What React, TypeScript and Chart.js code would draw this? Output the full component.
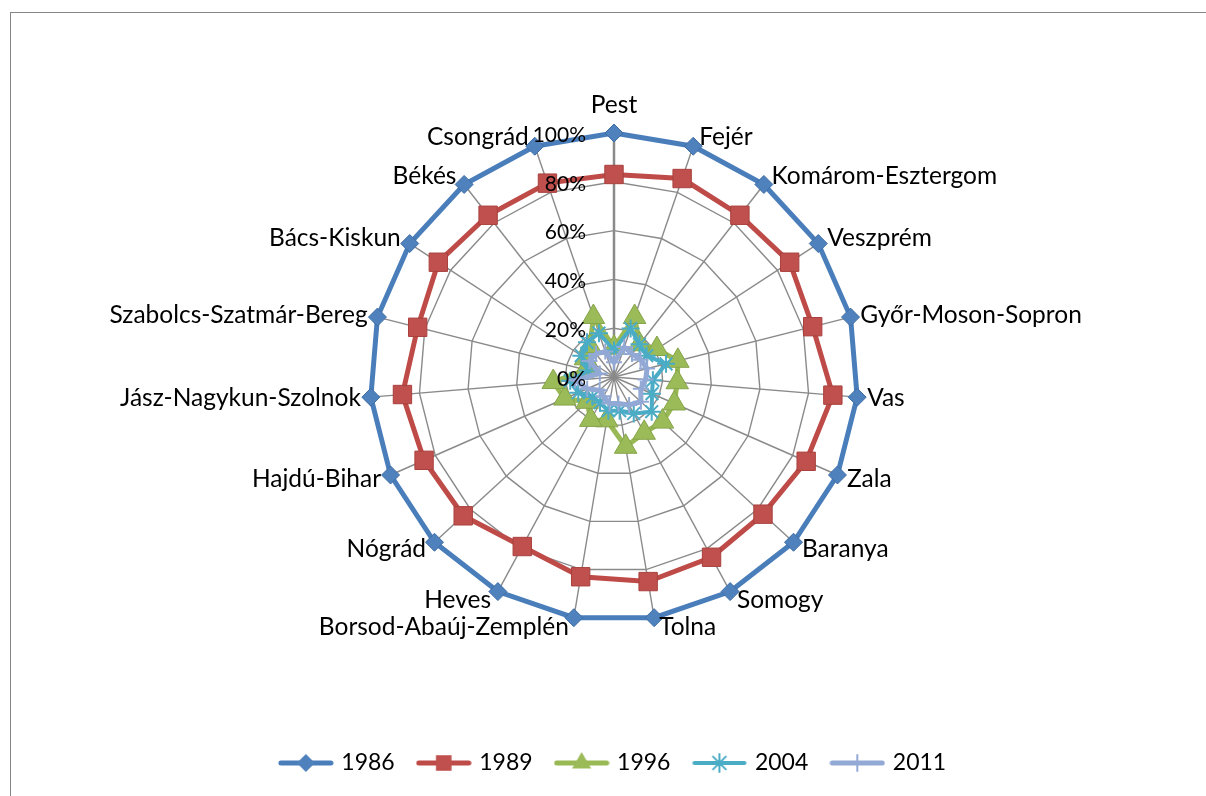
import React, { useEffect, useRef } from "react";
import { Chart, registerables } from "chart.js";

Chart.register(...registerables);

const categories = [
  "Pest", "Fejér", "Komárom-Esztergom", "Veszprém", "Győr-Moson-Sopron", "Vas", "Zala",
  "Baranya", "Somogy", "Tolna", "Borsod-Abaúj-Zemplén", "Heves", "Nógrád", "Hajdú-Bihar",
  "Jász-Nagykun-Szolnok", "Szabolcs-Szatmár-Bereg", "Bács-Kiskun", "Békés", "Csongrád",
];

const seriesNames = ["1986", "1989", "1996", "2004", "2011"];

const values1986 = [100, 100, 100, 100, 100, 100, 100, 100, 100, 100, 100, 100, 100, 100, 100, 100, 100, 100, 100];
const values1989 = [83, 86, 84, 86, 84, 90, 86, 83, 84, 85, 83, 79, 84, 85, 87, 83, 86, 84, 84];
const values1996 = [12, 26, 17, 21, 27, 26, 27, 27, 26, 29, 18, 20, 15, 22, 25, 12, 14, 16, 26];
const values2004 = [11, 21, 17, 16, 22, 16, 17, 21, 17, 14, 14, 12, 12, 16, 18, 11, 16, 18, 19];
const values2011 = [6, 13, 12, 13, 14, 13, 12, 15, 13, 11, 11, 9, 8, 12, 16, 6, 12, 12, 11];

const tickValues = [0, 20, 40, 60, 80, 100];

const LINE_COLORS = ["#4A7EBB", "#BE4B48", "#98B954", "#4BACC6", "#93A9D5"];
const MARKER_FILL = ["#4F81BD", "#C0504D", "#9BBB59", "#4BACC6", "#93A9D5"];
const MARKER_BORDER = ["#3F6EA6", "#A8403D", "#86A44A", "#4BACC6", "#93A9D5"];
const MARKER_STYLE = ["rectRot", "rect", "triangle", "star", "cross"];
const MARKER_RADIUS = [9, 13, 13, 9, 8];
const LINE_WIDTH = [5, 5, 5, 4, 5];

function drawMarker(ctx: CanvasRenderingContext2D, style: string, x: number, y: number, r: number, fill: string, stroke: string) {
  ctx.save();
  ctx.fillStyle = fill;
  ctx.strokeStyle = stroke;
  ctx.lineWidth = 1.5;
  ctx.beginPath();
  if (style === "rectRot") {
    ctx.moveTo(x - r, y);
    ctx.lineTo(x, y - r);
    ctx.lineTo(x + r, y);
    ctx.lineTo(x, y + r);
    ctx.closePath();
    ctx.fill();
  } else if (style === "rect") {
    const s = Math.SQRT1_2 * r;
    ctx.rect(x - s, y - s, 2 * s, 2 * s);
    ctx.fill();
  } else if (style === "triangle") {
    for (let k = 0; k < 3; k++) {
      const a = (k * 2 * Math.PI) / 3;
      const px = x + Math.sin(a) * r;
      const py = y - Math.cos(a) * r;
      if (k === 0) ctx.moveTo(px, py);
      else ctx.lineTo(px, py);
    }
    ctx.closePath();
    ctx.fill();
  } else if (style === "star") {
    ctx.lineWidth = 2;
    for (let k = 0; k < 4; k++) {
      const a = (k * Math.PI) / 4;
      ctx.moveTo(x - Math.cos(a) * r, y - Math.sin(a) * r);
      ctx.lineTo(x + Math.cos(a) * r, y + Math.sin(a) * r);
    }
    ctx.stroke();
  } else if (style === "cross") {
    ctx.lineWidth = 2;
    ctx.moveTo(x, y - r);
    ctx.lineTo(x, y + r);
    ctx.moveTo(x - r, y);
    ctx.lineTo(x + r, y);
    ctx.stroke();
  }
  ctx.restore();
}

function makeLegendImage(i: number): HTMLCanvasElement {
  const c = document.createElement("canvas");
  c.width = 56;
  c.height = 26;
  const ctx = c.getContext("2d")!;
  ctx.strokeStyle = LINE_COLORS[i];
  ctx.lineWidth = LINE_WIDTH[i];
  ctx.lineCap = "round";
  ctx.beginPath();
  ctx.moveTo(3, 13);
  ctx.lineTo(53, 13);
  ctx.stroke();
  drawMarker(ctx, MARKER_STYLE[i], 28, 13, Math.min(MARKER_RADIUS[i], 11), MARKER_FILL[i], MARKER_BORDER[i]);
  return c;
}

const frameAndLabels = {
  id: "frameAndLabels",
  beforeDraw(chart: any) {
    const ctx = chart.ctx as CanvasRenderingContext2D;
    ctx.save();
    ctx.fillStyle = "#ffffff";
    ctx.fillRect(0, 0, chart.width, chart.height);
    ctx.strokeStyle = "#868686";
    ctx.lineWidth = 1;
    ctx.strokeRect(10.5, 12.5, 1400, 1000);
    ctx.restore();
  },
  afterDraw(chart: any) {
    const scale = chart.scales.r;
    const ctx = chart.ctx as CanvasRenderingContext2D;
    ctx.save();
    ctx.fillStyle = "#000000";
    ctx.textBaseline = "middle";
    ctx.font = "24.5px Lato";
    const labels: string[] = chart.data.labels;
    const outer = scale.getDistanceFromCenterForValue(100);
    labels.forEach((lab, i) => {
      const ang = scale.getIndexAngle(i);
      const p = scale.getPointPosition(i, outer);
      const s = Math.sin(ang);
      const c = Math.cos(ang);
      if (Math.abs(s) < 0.01) {
        ctx.textAlign = "center";
        ctx.fillText(lab, p.x, p.y - 28);
      } else {
        const off = 4 + 6 * Math.abs(s);
        ctx.textAlign = s > 0 ? "left" : "right";
        ctx.fillText(lab, p.x + (s > 0 ? off : -off), p.y - 10 * c);
      }
    });
    ctx.font = "21px Lato";
    ctx.textAlign = "right";
    scale.ticks.forEach((t: any) => {
      const y = scale.yCenter - scale.getDistanceFromCenterForValue(t.value);
      ctx.fillText(t.label, scale.xCenter - 28, y + 2);
    });
    ctx.restore();
  },
};

export default function App() {
  const ref = useRef<HTMLCanvasElement | null>(null);
  useEffect(() => {
    if (!ref.current) return;
    const all = [values1986, values1989, values1996, values2004, values2011];
    const legendImages = seriesNames.map((_, i) => makeLegendImage(i));
    const chart = new Chart(ref.current, {
      type: "radar",
      data: {
        labels: categories,
        datasets: seriesNames.map((name, i) => ({
          label: name,
          data: all[i],
          order: seriesNames.length - i,
          fill: false,
          borderColor: LINE_COLORS[i],
          backgroundColor: MARKER_FILL[i],
          borderWidth: LINE_WIDTH[i],
          tension: 0,
          pointStyle: MARKER_STYLE[i] as any,
          pointRadius: MARKER_RADIUS[i],
          pointHoverRadius: MARKER_RADIUS[i],
          pointBackgroundColor: MARKER_FILL[i],
          pointBorderColor: i >= 3 ? LINE_COLORS[i] : MARKER_BORDER[i],
          pointBorderWidth: i >= 3 ? 2 : 1,
        })),
      },
      options: {
        animation: false,
        responsive: false,
        devicePixelRatio: 1,
        layout: { padding: { top: 133, left: 22, right: 0, bottom: 11.5 } },
        scales: {
          r: {
            min: 0,
            max: 100,
            beginAtZero: true,
            ticks: {
              display: false,
              stepSize: 20,
              callback: (v: any) => v + "%",
            },
            afterBuildTicks: (scale: any) => {
              scale.ticks = tickValues.map((v) => ({ value: v }));
            },
            pointLabels: { display: false },
            grid: { color: "#8A8A8A", lineWidth: 1.4, circular: false },
            angleLines: {
              color: "#8A8A8A",
              lineWidth: (ctx: any) => (ctx.index === 0 ? 2.5 : 1.4),
            },
          },
        },
        plugins: {
          tooltip: { enabled: false },
          legend: {
            position: "bottom",
            title: { display: true, text: "", padding: { top: 93.5, bottom: 0 }, font: { size: 10 } },
            labels: {
              usePointStyle: true,
              pointStyleWidth: 48,
              padding: 25,
              color: "#000000",
              font: { family: "Lato", size: 23 },
              generateLabels: (ch: any) =>
                ch.data.datasets.map((ds: any, i: number) => ({
                  text: ds.label,
                  pointStyle: legendImages[i],
                  fillStyle: "transparent",
                  strokeStyle: "transparent",
                  lineWidth: 0,
                  hidden: false,
                  datasetIndex: i,
                  fontColor: "#000000",
                })),
            },
          },
        },
      },
      plugins: [frameAndLabels],
    } as any);
    return () => chart.destroy();
  }, []);
  return (
    <div style={{ position: "fixed", left: 0, top: 0, width: 1206, height: 796, overflow: "hidden", background: "#fff" }}>
      <canvas ref={ref} width={1206} height={796} style={{ width: 1206, height: 796, display: "block" }} />
    </div>
  );
}
